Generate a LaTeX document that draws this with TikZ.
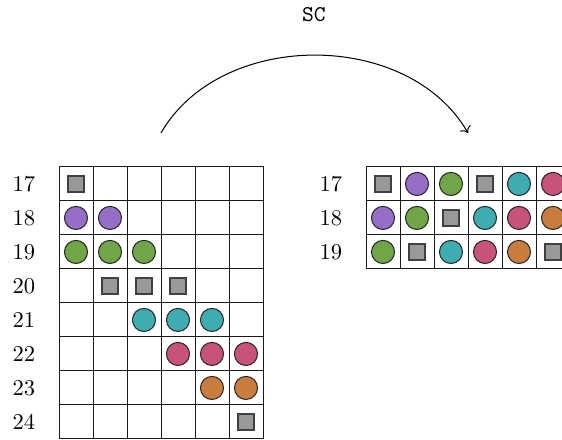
\documentclass[tikz,border=0pt]{standalone}
\usepackage{tikz}
\usetikzlibrary{arrows.meta,positioning}

\definecolor{slotpurple}{RGB}{150,110,200}
\definecolor{slotgreen}{RGB}{112,165,72}
\definecolor{slotteal}{RGB}{62,172,176}
\definecolor{slotpink}{RGB}{200,82,120}
\definecolor{slotorange}{RGB}{200,125,62}

\begin{document}
\begin{tikzpicture}[
  x=0.53cm, y=0.53cm,
  gridline/.style={draw=black!90, line width=0.4pt},
  dot/.style={circle, draw=black!85, line width=0.45pt, inner sep=0pt,
              minimum size=0.36cm},
  pu/.style={dot, fill=slotpurple},
  gr/.style={dot, fill=slotgreen},
  te/.style={dot, fill=slotteal},
  pk/.style={dot, fill=slotpink},
  or/.style={dot, fill=slotorange},
  sq/.style={rectangle, draw=black!75, line width=0.8pt, fill=black!40,
             inner sep=0pt, minimum size=0.25cm},
  rowlabel/.style={font=\normalsize}
]
  \useasboundingbox (-1.735,-8.03) rectangle (14.795,4.91);

  % left grid: 6 columns, 8 rows
  \foreach \i in {1,...,5} \draw[gridline] (\i,0) -- (\i,-8);
  \foreach \j in {1,...,7} \draw[gridline] (0,-\j) -- (6,-\j);
  \draw[gridline] (0,0) rectangle (6,-8);

  % right grid: 6 columns, 3 rows
  \foreach \i in {1,...,5} \draw[gridline] (\i+9.03,0) -- (\i+9.03,-3);
  \foreach \j in {1,2} \draw[gridline] (9.03,-\j) -- (15.03,-\j);
  \draw[gridline] (9.03,0) rectangle (15.03,-3);

  % row labels
  \foreach \n [count=\r from 0] in {17,...,24}
    \node[rowlabel] (la-\n) at (-1.03,-\r-0.5) {\n};
  \foreach \n [count=\r from 0] in {17,18,19}
    \node[rowlabel] (lb-\n) at (8.0,-\r-0.5) {\n};

  % left contents
  \foreach \c/\r/\s in {0/0/sq, 0/1/pu, 1/1/pu, 0/2/gr, 1/2/gr, 2/2/gr,
                        1/3/sq, 2/3/sq, 3/3/sq, 2/4/te, 3/4/te, 4/4/te,
                        3/5/pk, 4/5/pk, 5/5/pk, 4/6/or, 5/6/or, 5/7/sq}
    \node[\s] (a-\c-\r) at (\c+0.5,-\r-0.5) {};

  % right contents
  \foreach \c/\r/\s in {0/0/sq, 1/0/pu, 2/0/gr, 3/0/sq, 4/0/te, 5/0/pk,
                        0/1/pu, 1/1/gr, 2/1/sq, 3/1/te, 4/1/pk, 5/1/or,
                        0/2/gr, 1/2/sq, 2/2/te, 3/2/pk, 4/2/or, 5/2/sq}
    \node[\s] (b-\c-\r) at (\c+9.53,-\r-0.5) {};

  % transformation arc
  \coordinate (src) at (3,1);
  \coordinate (dst) at (12.03,1);
  \draw[->, line width=0.45pt] (src) to[out=60, in=120] (dst);
  \node[font=\ttfamily] (sc) at (7.5,4.47) {SC};
\end{tikzpicture}
\end{document}
